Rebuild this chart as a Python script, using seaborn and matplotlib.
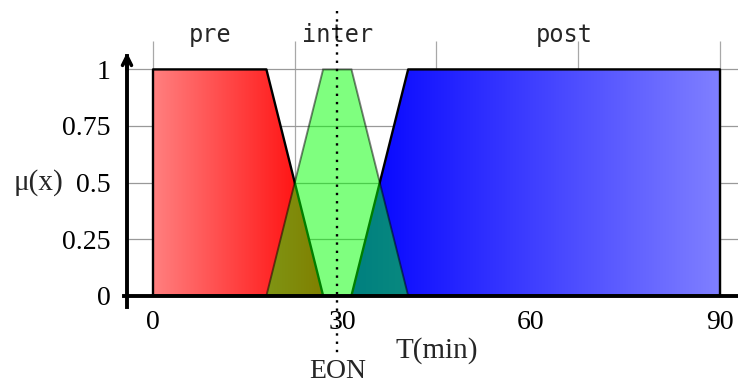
import numpy as np
import matplotlib
matplotlib.use("Agg")
import matplotlib.pyplot as plt
from matplotlib.patches import Polygon
import seaborn as sns

# Fuzzy sets over time T (minutes): trapezoid break points and membership degrees
set_names = ["pre", "inter", "post"]
pre_t = [0, 0, 18, 27]
inter_t = [18, 27, 31.5, 40.5]
post_t = [31.5, 40.5, 90, 90]
mu = [0, 1, 1, 0]
set_label_x = [9, 29.25, 65.25]
eon_t = 29.25

x_ticks = [0, 30, 60, 90]
y_ticks = [0, 0.25, 0.5, 0.75, 1]
y_tick_labels = ["0", "0.25", "0.5", "0.75", "1"]
grid_x = [0, 22.5, 45, 67.5, 90]

sns.set_theme(style="white")
plt.rcParams["font.family"] = ["Liberation Serif", "DejaVu Serif"]

W, H = 738, 385
fig = plt.figure(figsize=(W / 100, H / 100), dpi=100)
px_per_unit = 6.3
x0_px = 153
ax = fig.add_axes([100 / W, (H - 307) / H, (W - 100) / W, 267 / H])
xmin = (100 - x0_px) / px_per_unit
xmax = (W - x0_px) / px_per_unit
yaxis_x = (127 - x0_px) / px_per_unit
xaxis_start = (124 - x0_px) / px_per_unit

# grid
ax.vlines(grid_x, 0, 1.124, color="#a8a8a8", lw=0.9, zorder=0)
ax.hlines(y_ticks[1:], yaxis_x, xmax, color="#999999", lw=0.9, zorder=0)


def gradient_trapezoid(t, m, c_left, c_right, z):
    poly = Polygon(list(zip(t, m)), closed=True, facecolor="none", edgecolor="none")
    ax.add_patch(poly)
    g = np.linspace(0, 1, 256)[None, :, None]
    img = np.array(c_left)[None, None, :] * (1 - g) + np.array(c_right)[None, None, :] * g
    im = ax.imshow(img, extent=(min(t), max(t), 0, 1), aspect="auto",
                   origin="lower", interpolation="bilinear", zorder=z)
    im.set_clip_path(poly)
    sns.lineplot(x=t + [t[0]], y=m + [m[0]], sort=False, estimator=None,
                 color="black", lw=1.7, ax=ax, zorder=z + 1)


gradient_trapezoid(pre_t, mu, (1.0, 0.5, 0.5), (1.0, 0.0, 0.0), 2)
gradient_trapezoid(post_t, mu, (0.0, 0.0, 1.0), (0.5, 0.5, 1.0), 2)

# semi-transparent middle set
ax.add_patch(Polygon(list(zip(inter_t, mu)), closed=True,
                     facecolor=(0, 1, 0, 0.5), edgecolor=(0, 0, 0, 0.5),
                     lw=1.4, zorder=5))

ax.set_xlim(xmin, xmax)
ax.set_ylim(-0.05, 1.13)

# axes
for s in ["top", "right"]:
    ax.spines[s].set_visible(False)
ax.spines["bottom"].set_position(("data", 0))
ax.spines["bottom"].set_bounds(xaxis_start, xmax)
ax.spines["bottom"].set_linewidth(2.8)
ax.spines["bottom"].set_color("black")
ax.spines["bottom"].set_zorder(10)
ax.spines["left"].set_position(("data", yaxis_x))
ax.spines["left"].set_bounds(-0.05, 1.06)
ax.spines["left"].set_linewidth(2.8)
ax.spines["left"].set_color("black")
ax.spines["left"].set_zorder(10)
ax.annotate("", xy=(yaxis_x, 1.075), xytext=(yaxis_x, 1.0),
            arrowprops=dict(arrowstyle="->", lw=2.6, color="black",
                            shrinkA=0, shrinkB=0, mutation_scale=16),
            annotation_clip=False, zorder=11)

ax.set_xticks(x_ticks)
ax.set_xticklabels([str(v) for v in x_ticks])
ax.set_yticks(y_ticks)
ax.set_yticklabels(y_tick_labels)
ax.tick_params(axis="both", direction="out", length=4, width=0.9,
               color="#888888", labelsize=20, labelcolor="black")
ax.tick_params(axis="x", pad=6)
ax.tick_params(axis="y", pad=8)
ax.grid(False)

# set names
for name, xc in zip(set_names, set_label_x):
    ax.text(xc, 1.15, name, ha="center", va="center", fontsize=17,
            family="DejaVu Sans Mono", clip_on=False)

# end of night marker
ax.plot([eon_t, eon_t], [1.257, -0.27], ls=(0, (1, 2.5)), lw=1.7,
        color="black", clip_on=False, zorder=12)
fig.text(338 / W, 1 - 384 / H, "EON", ha="center", va="bottom", fontsize=20)

fig.text(38 / W, 1 - 183 / H, "μ(x)", ha="center", va="center", fontsize=21)
fig.text(437 / W, 1 - 351 / H, "T(min)", ha="center", va="center", fontsize=21)

fig.savefig("out.png", dpi=100)
